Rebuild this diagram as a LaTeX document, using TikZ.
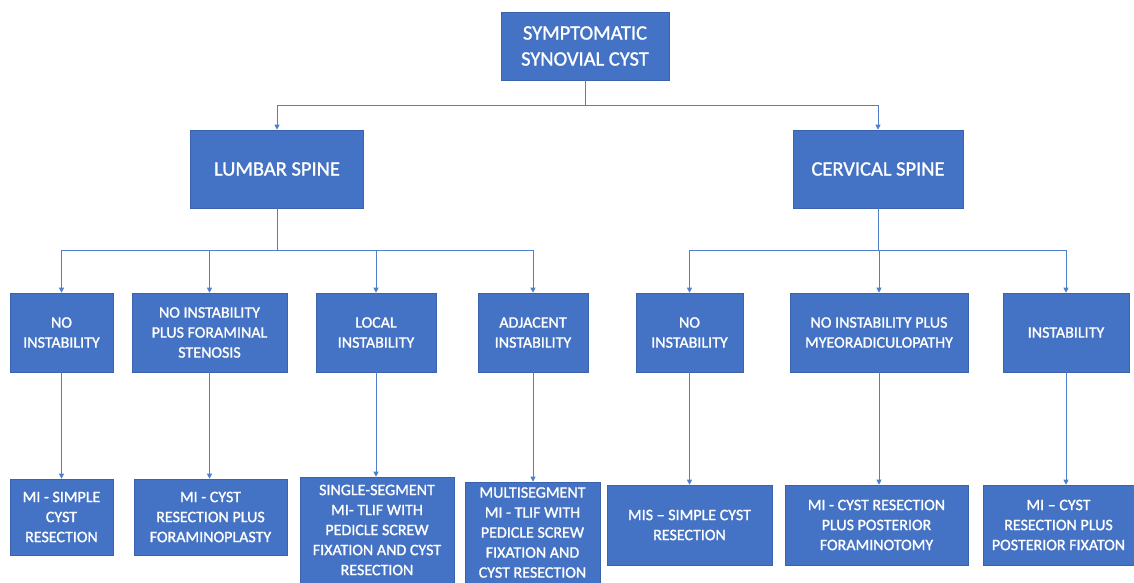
\documentclass[tikz,border=0pt]{standalone}
\usepackage{fontspec}
\setmainfont{Carlito}
\newfontfamily\boxfont{Carlito}[FakeBold=1.2,Ligatures=TeX]
\usetikzlibrary{arrows.meta}
\definecolor{boxblue}{HTML}{4472C4}
\definecolor{boxedge}{HTML}{3A62AD}
\definecolor{linkblue}{HTML}{4F7FCB}
\tikzset{
  box/.style={draw=boxedge, line width=0.6pt, fill=boxblue, text=white, align=center, inner sep=0pt, anchor=center},
  big/.style={box, font=\boxfont\fontsize{20.5}{26}\selectfont},
  small/.style={box, font=\boxfont\fontsize{16}{20}\selectfont},
  link/.style={draw=linkblue, line width=0.8pt},
  arr/.style={link, -{Triangle[width=5pt,length=5pt]}}
}
\begin{document}
\begin{tikzpicture}[x=1pt,y=-1pt]
\useasboundingbox (0,0) rectangle (1134,583);
% level 0
\node[big, minimum width=168pt, minimum height=68pt] (top) at (585,46) {SYMPTOMATIC\\SYNOVIAL CYST};
% level 1
\node[big, minimum width=173pt, minimum height=78pt] (lum) at (277,169) {LUMBAR SPINE};
\node[big, minimum width=170pt, minimum height=78pt] (cer) at (878,169) {CERVICAL SPINE};
% level 2
\node[small, minimum width=103pt, minimum height=79pt] (a1) at (61.5,332.5) {NO\\INSTABILITY};
\node[small, minimum width=155pt, minimum height=79pt] (a2) at (209.5,332.5) {NO INSTABILITY\\PLUS FORAMINAL\\STENOSIS};
\node[small, minimum width=120pt, minimum height=79pt] (a3) at (376,332.5) {LOCAL\\INSTABILITY};
\node[small, minimum width=110pt, minimum height=79pt] (a4) at (533,332.5) {ADJACENT\\INSTABILITY};
\node[small, minimum width=107pt, minimum height=79pt] (a5) at (689.5,332.5) {NO\\INSTABILITY};
\node[small, minimum width=178pt, minimum height=79pt] (a6) at (879,332.5) {NO INSTABILITY PLUS\\MYEORADICULOPATHY};
\node[small, minimum width=126pt, minimum height=79pt] (a7) at (1066,332.5) {INSTABILITY};
% level 3
\node[small, minimum width=103pt, minimum height=76pt] (b1) at (61.5,517) {MI - SIMPLE\\CYST\\RESECTION};
\node[small, minimum width=153pt, minimum height=76pt] (b2) at (210.5,517) {MI - CYST\\RESECTION PLUS\\FORAMINOPLASTY};
\node[small, minimum width=154pt, minimum height=106pt] (b3) at (377,530) {SINGLE-SEGMENT\\MI- TLIF WITH\\PEDICLE SCREW\\FIXATION AND CYST\\RESECTION};
\node[small, minimum width=135pt, minimum height=101pt] (b4) at (532.5,532.5) {MULTISEGMENT\\MI - TLIF WITH\\PEDICLE SCREW\\FIXATION AND\\CYST RESECTION};
\node[small, minimum width=165pt, minimum height=80pt] (b5) at (689.5,525) {MIS – SIMPLE CYST\\RESECTION};
\node[small, minimum width=183pt, minimum height=80pt] (b6) at (876.5,525) {MI - CYST RESECTION\\PLUS POSTERIOR\\FORAMINOTOMY};
\node[small, minimum width=151pt, minimum height=80pt] (b7) at (1058.5,525) {MI – CYST\\RESECTION PLUS\\POSTERIOR FIXATON};
% connectors level 0 -> 1
\coordinate (j0) at (585,105);
\draw[link] (top.south) -- (j0);
\draw[arr] (j0) -| (lum.north);
\draw[arr] (j0) -| (cer.north);
% lumbar -> level 2
\coordinate (j1) at (277,250);
\draw[link] (lum.south) -- (j1);
\foreach \n in {a1,a2,a3,a4}{\draw[arr] (j1) -| (\n.north);}
% cervical -> level 2
\coordinate (j2) at (878,250);
\draw[link] (cer.south) -- (j2);
\foreach \n in {a5,a6,a7}{\draw[arr] (j2) -| (\n.north);}
% level 2 -> level 3
\foreach \p/\c in {a1/b1,a2/b2,a3/b3,a4/b4,a5/b5,a6/b6,a7/b7}{\draw[arr] (\p.south) -- (\p.south |- \c.north);}
\end{tikzpicture}
\end{document}
